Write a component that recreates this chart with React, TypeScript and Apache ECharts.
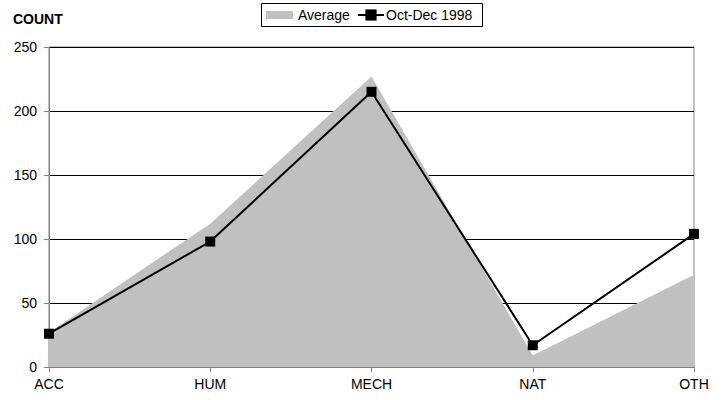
import React, { useEffect, useRef } from "react";
import * as echarts from "echarts";

const categories = ["ACC", "HUM", "MECH", "NAT", "OTH"];
const averageValues = [27, 112, 227, 9, 72];
const octDecValues = [26, 98, 215, 17, 104];
const yTicks = { min: 0, max: 250, interval: 50 };

const FONT = "'Liberation Sans', Arial, sans-serif";

export default function App() {
  const ref = useRef<HTMLDivElement>(null);
  useEffect(() => {
    if (!ref.current) return;
    const chart = echarts.init(ref.current, undefined, { renderer: "svg" });
    chart.setOption({
      animation: false,
      backgroundColor: "#fff",
      textStyle: { fontFamily: FONT },
      title: {
        text: "COUNT",
        left: 13,
        top: 12,
        padding: 0,
        textStyle: { fontSize: 14, fontWeight: "bold", color: "#000", fontFamily: FONT },
      },
      legend: [
        {
          data: [{ name: "Average", icon: "rect" }],
          left: 266,
          top: 8,
          padding: 0,
          itemWidth: 27,
          itemHeight: 8,
          textStyle: { fontSize: 14, color: "#000", fontFamily: FONT },
          selectedMode: false,
        },
        {
          data: ["Oct-Dec 1998"],
          left: 357,
          top: 8,
          padding: 0,
          itemWidth: 26,
          itemHeight: 14,
          textStyle: { fontSize: 14, color: "#000", fontFamily: FONT, padding: [0, 0, 0, -3] },
          selectedMode: false,
        },
      ],
      graphic: [
        {
          type: "rect",
          shape: { x: 261.5, y: 3.5, width: 221, height: 23 },
          style: { fill: "none", stroke: "#000", lineWidth: 1 },
          silent: true,
        },
      ],
      grid: {
        left: 49,
        right: 29,
        top: 47,
        bottom: 33,
        show: true,
        borderColor: "#808080",
        borderWidth: 1,
        backgroundColor: "transparent",
      },
      xAxis: {
        type: "category",
        data: categories,
        boundaryGap: false,
        axisLine: { show: true, lineStyle: { color: "#808080", width: 1 } },
        axisTick: { show: true, length: 5, lineStyle: { color: "#808080" } },
        axisLabel: { fontSize: 14, color: "#000", margin: 10, fontFamily: FONT },
        splitLine: { show: false },
      },
      yAxis: {
        type: "value",
        min: yTicks.min,
        max: yTicks.max,
        interval: yTicks.interval,
        axisLine: { show: true, lineStyle: { color: "#808080", width: 1 } },
        axisTick: { show: true, length: 5, lineStyle: { color: "#808080" } },
        axisLabel: { fontSize: 14, color: "#000", margin: 12, fontFamily: FONT },
        splitLine: { show: true, lineStyle: { color: "#000", width: 1 } },
      },
      series: [
        {
          name: "Average",
          type: "line",
          data: averageValues,
          color: "#c0c0c0",
          symbol: "none",
          lineStyle: { width: 0, color: "#c0c0c0" },
          areaStyle: { color: "#c0c0c0", opacity: 1 },
          z: 2,
        },
        {
          name: "Oct-Dec 1998",
          type: "line",
          data: octDecValues,
          color: "#000",
          symbol: "rect",
          symbolSize: 10,
          lineStyle: { width: 2, color: "#000" },
          itemStyle: { color: "#000" },
          z: 3,
        },
      ],
    });
    return () => chart.dispose();
  }, []);
  return <div ref={ref} style={{ width: 723, height: 400, position: "absolute", left: 0, top: 0 }} />;
}
